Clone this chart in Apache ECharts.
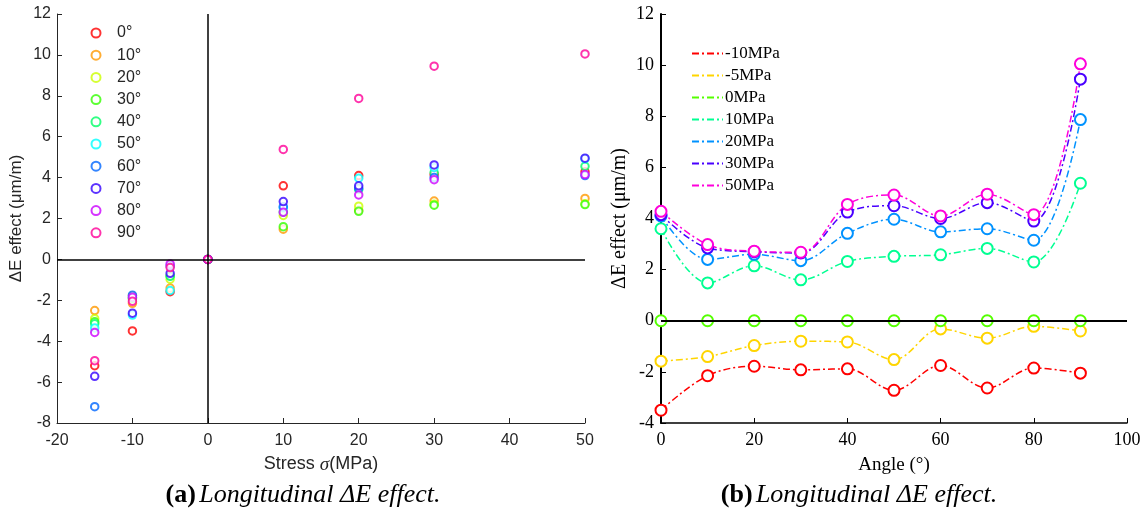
<!DOCTYPE html>
<html>
<head>
<meta charset="utf-8">
<script src="https://cdn.jsdelivr.net/npm/echarts@6/dist/echarts.min.js"></script>
<style>
html,body{margin:0;padding:0;background:#fff;}
#c{width:1144px;height:517px;}
</style>
</head>
<body>
<div id="c"></div>
<script>
// ---- data ----
const angles = [0, 10, 20, 30, 40, 50, 60, 70, 80, 90];
const angleLabels = ['0°','10°','20°','30°','40°','50°','60°','70°','80°','90°'];
const stressLevels = [-15, -10, -5, 0, 10, 20, 30, 50];
// ΔE effect (µm/m) at each angle, one array per stress level
const s_m15 = [-5.2, -2.5, -2.9, -3.05, -3.15, -3.35, -7.2, -5.72, -3.57, -4.95];
const s_m10 = [-3.5, -2.15, -1.78, -1.92, -1.88, -2.72, -1.75, -2.63, -1.85, -2.05];
const s_m5  = [-1.58, -1.4, -0.97, -0.8, -0.83, -1.52, -0.32, -0.68, -0.22, -0.4];
const s_0   = [0, 0, 0, 0, 0, 0, 0, 0, 0, 0];
const s_10  = [3.6, 1.48, 2.15, 1.6, 2.32, 2.52, 2.58, 2.83, 2.3, 5.38];
const s_20  = [4.1, 2.4, 2.6, 2.35, 3.42, 3.97, 3.48, 3.6, 3.15, 7.87];
const s_30  = [4.15, 2.85, 2.7, 2.65, 4.25, 4.5, 4.0, 4.62, 3.9, 9.45];
const s_50  = [4.28, 2.98, 2.72, 2.68, 4.55, 4.92, 4.1, 4.95, 4.15, 10.05];
const byStress = [s_m15, s_m10, s_m5, s_0, s_10, s_20, s_30, s_50];
// right panel series
const rightNames = ['-10MPa', '-5MPa', '0MPa', '10MPa', '20MPa', '30MPa', '50MPa'];
const rightData = [s_m10, s_m5, s_0, s_10, s_20, s_30, s_50];

const leftColors = ['#ff0000','#ff9900','#ccff00','#33ff00','#00ff66','#00ffff','#0066ff','#3300ff','#cc00ff','#ff0099'];
const rightColors = ['#ff0000','#ffd500','#55ff00','#00ff92','#0092ff','#4900ff','#ff00db'];

const sans = 'Liberation Sans';
const serif = 'Liberation Serif';
const dashDot = [7, 3, 2, 3];

const series = [];
angles.forEach((a, i) => {
  series.push({
    name: angleLabels[i],
    type: 'scatter',
    xAxisIndex: 0, yAxisIndex: 0,
    symbol: 'emptyCircle',
    symbolSize: 7.5,
    itemStyle: { color: leftColors[i], borderColor: leftColors[i], borderWidth: 1.5 },
    data: stressLevels.map((st, k) => [st, byStress[k][i]]),
    z: 3
  });
});
series[0].markLine = {
  silent: true, symbol: 'none', label: { show: false },
  lineStyle: { color: '#000', width: 1.5, type: 'solid' },
  animation: false,
  data: [{ xAxis: 0 }, { yAxis: 0 }]
};
rightNames.forEach((n, i) => {
  series.push({
    name: n,
    type: 'line',
    xAxisIndex: 1, yAxisIndex: 1,
    smooth: 0.35,
    symbol: 'emptyCircle',
    symbolSize: 11,
    itemStyle: { color: rightColors[i], borderColor: rightColors[i], borderWidth: 1.5 },
    lineStyle: { color: rightColors[i], width: 1.5, type: dashDot },
    data: angles.map((a, k) => [a, rightData[i][k]]),
    z: 3
  });
});
series[10].markLine = {
  silent: true, symbol: 'none', label: { show: false },
  lineStyle: { color: '#000', width: 2, type: 'solid' },
  animation: false,
  data: [{ yAxis: 0 }]
};

const chart = echarts.init(document.getElementById('c'), null, { renderer: 'canvas' });
chart.setOption({
  animation: false,
  backgroundColor: '#fff',
  grid: [
    { left: 57, top: 14, width: 528, height: 409 },
    { left: 661, top: 14, width: 466, height: 409 }
  ],
  xAxis: [
    {
      gridIndex: 0, type: 'value', min: -20, max: 50, interval: 10,
      name: '{n|Stress }{s|σ}{n|(MPa)}', nameLocation: 'middle', nameGap: 32,
      nameTextStyle: { fontFamily: sans, fontSize: 18, color: '#262626', rich: {
        n: { fontFamily: sans, fontSize: 18, color: '#262626' },
        s: { fontFamily: serif, fontSize: 19, fontStyle: 'italic', color: '#262626' } } },
      axisLine: { onZero: false, lineStyle: { color: '#262626', width: 1 } },
      axisTick: { inside: true, length: 5, lineStyle: { color: '#262626' } },
      axisLabel: { fontFamily: sans, fontSize: 16, color: '#262626', margin: 10 },
      splitLine: { show: false }
    },
    {
      gridIndex: 1, type: 'value', min: 0, max: 100, interval: 20,
      name: 'Angle (°)', nameLocation: 'middle', nameGap: 33,
      nameTextStyle: { fontFamily: serif, fontSize: 19, color: '#000' },
      axisLine: { onZero: false, lineStyle: { color: '#000', width: 1.5 } },
      axisTick: { inside: true, length: 5, lineStyle: { color: '#000' } },
      axisLabel: { fontFamily: serif, fontSize: 18, color: '#000', margin: 8 },
      splitLine: { show: false }
    }
  ],
  yAxis: [
    {
      gridIndex: 0, type: 'value', min: -8, max: 12, interval: 2,
      name: 'ΔE effect (μm/m)', nameLocation: 'middle', nameGap: 32,
      nameTextStyle: { fontFamily: sans, fontSize: 17, color: '#262626' },
      axisLine: { onZero: false, lineStyle: { color: '#262626', width: 1 } },
      axisTick: { inside: true, length: 5, lineStyle: { color: '#262626' } },
      axisLabel: { fontFamily: sans, fontSize: 16, color: '#262626', margin: 6 },
      splitLine: { show: false }
    },
    {
      gridIndex: 1, type: 'value', min: -4, max: 12, interval: 2,
      name: 'ΔE effect (μm/m)', nameLocation: 'middle', nameGap: 31,
      nameTextStyle: { fontFamily: serif, fontSize: 20, color: '#000' },
      axisLine: { onZero: false, lineStyle: { color: '#000', width: 2 } },
      axisTick: { inside: true, length: 5, lineStyle: { color: '#000' } },
      axisLabel: { fontFamily: serif, fontSize: 18, color: '#000', margin: 7 },
      splitLine: { show: false }
    }
  ],
  legend: [
    {
      data: angleLabels, orient: 'vertical', left: 85.5, top: 20,
      itemWidth: 9, itemHeight: 9, itemGap: 6.2,
      itemStyle: { borderWidth: 1.5 },
      textStyle: { fontFamily: sans, fontSize: 16, color: '#262626', padding: [0, 0, 0, 11.5] }
    },
    {
      data: rightNames, orient: 'vertical', left: 686, top: 40,
      itemWidth: 31, itemHeight: 14, itemGap: 5,
      itemStyle: { opacity: 0 },
      textStyle: { fontFamily: serif, fontSize: 17, color: '#000', padding: [0, 0, 0, -3] }
    }
  ],
  graphic: [
    { type: 'text', x: 303, y: 495, style: {
      text: '{b|(a)} {i|Longitudinal ΔE effect.}', align: 'center', verticalAlign: 'middle',
      rich: { b: { fontFamily: serif, fontSize: 26, fontWeight: 'bold', fill: '#000' },
              i: { fontFamily: serif, fontSize: 26, fontStyle: 'italic', fill: '#000' } } } },
    { type: 'text', x: 859, y: 495, style: {
      text: '{b|(b)} {i|Longitudinal ΔE effect.}', align: 'center', verticalAlign: 'middle',
      rich: { b: { fontFamily: serif, fontSize: 26, fontWeight: 'bold', fill: '#000' },
              i: { fontFamily: serif, fontSize: 26, fontStyle: 'italic', fill: '#000' } } } }
  ],
  series: series
});
</script>
</body>
</html>
